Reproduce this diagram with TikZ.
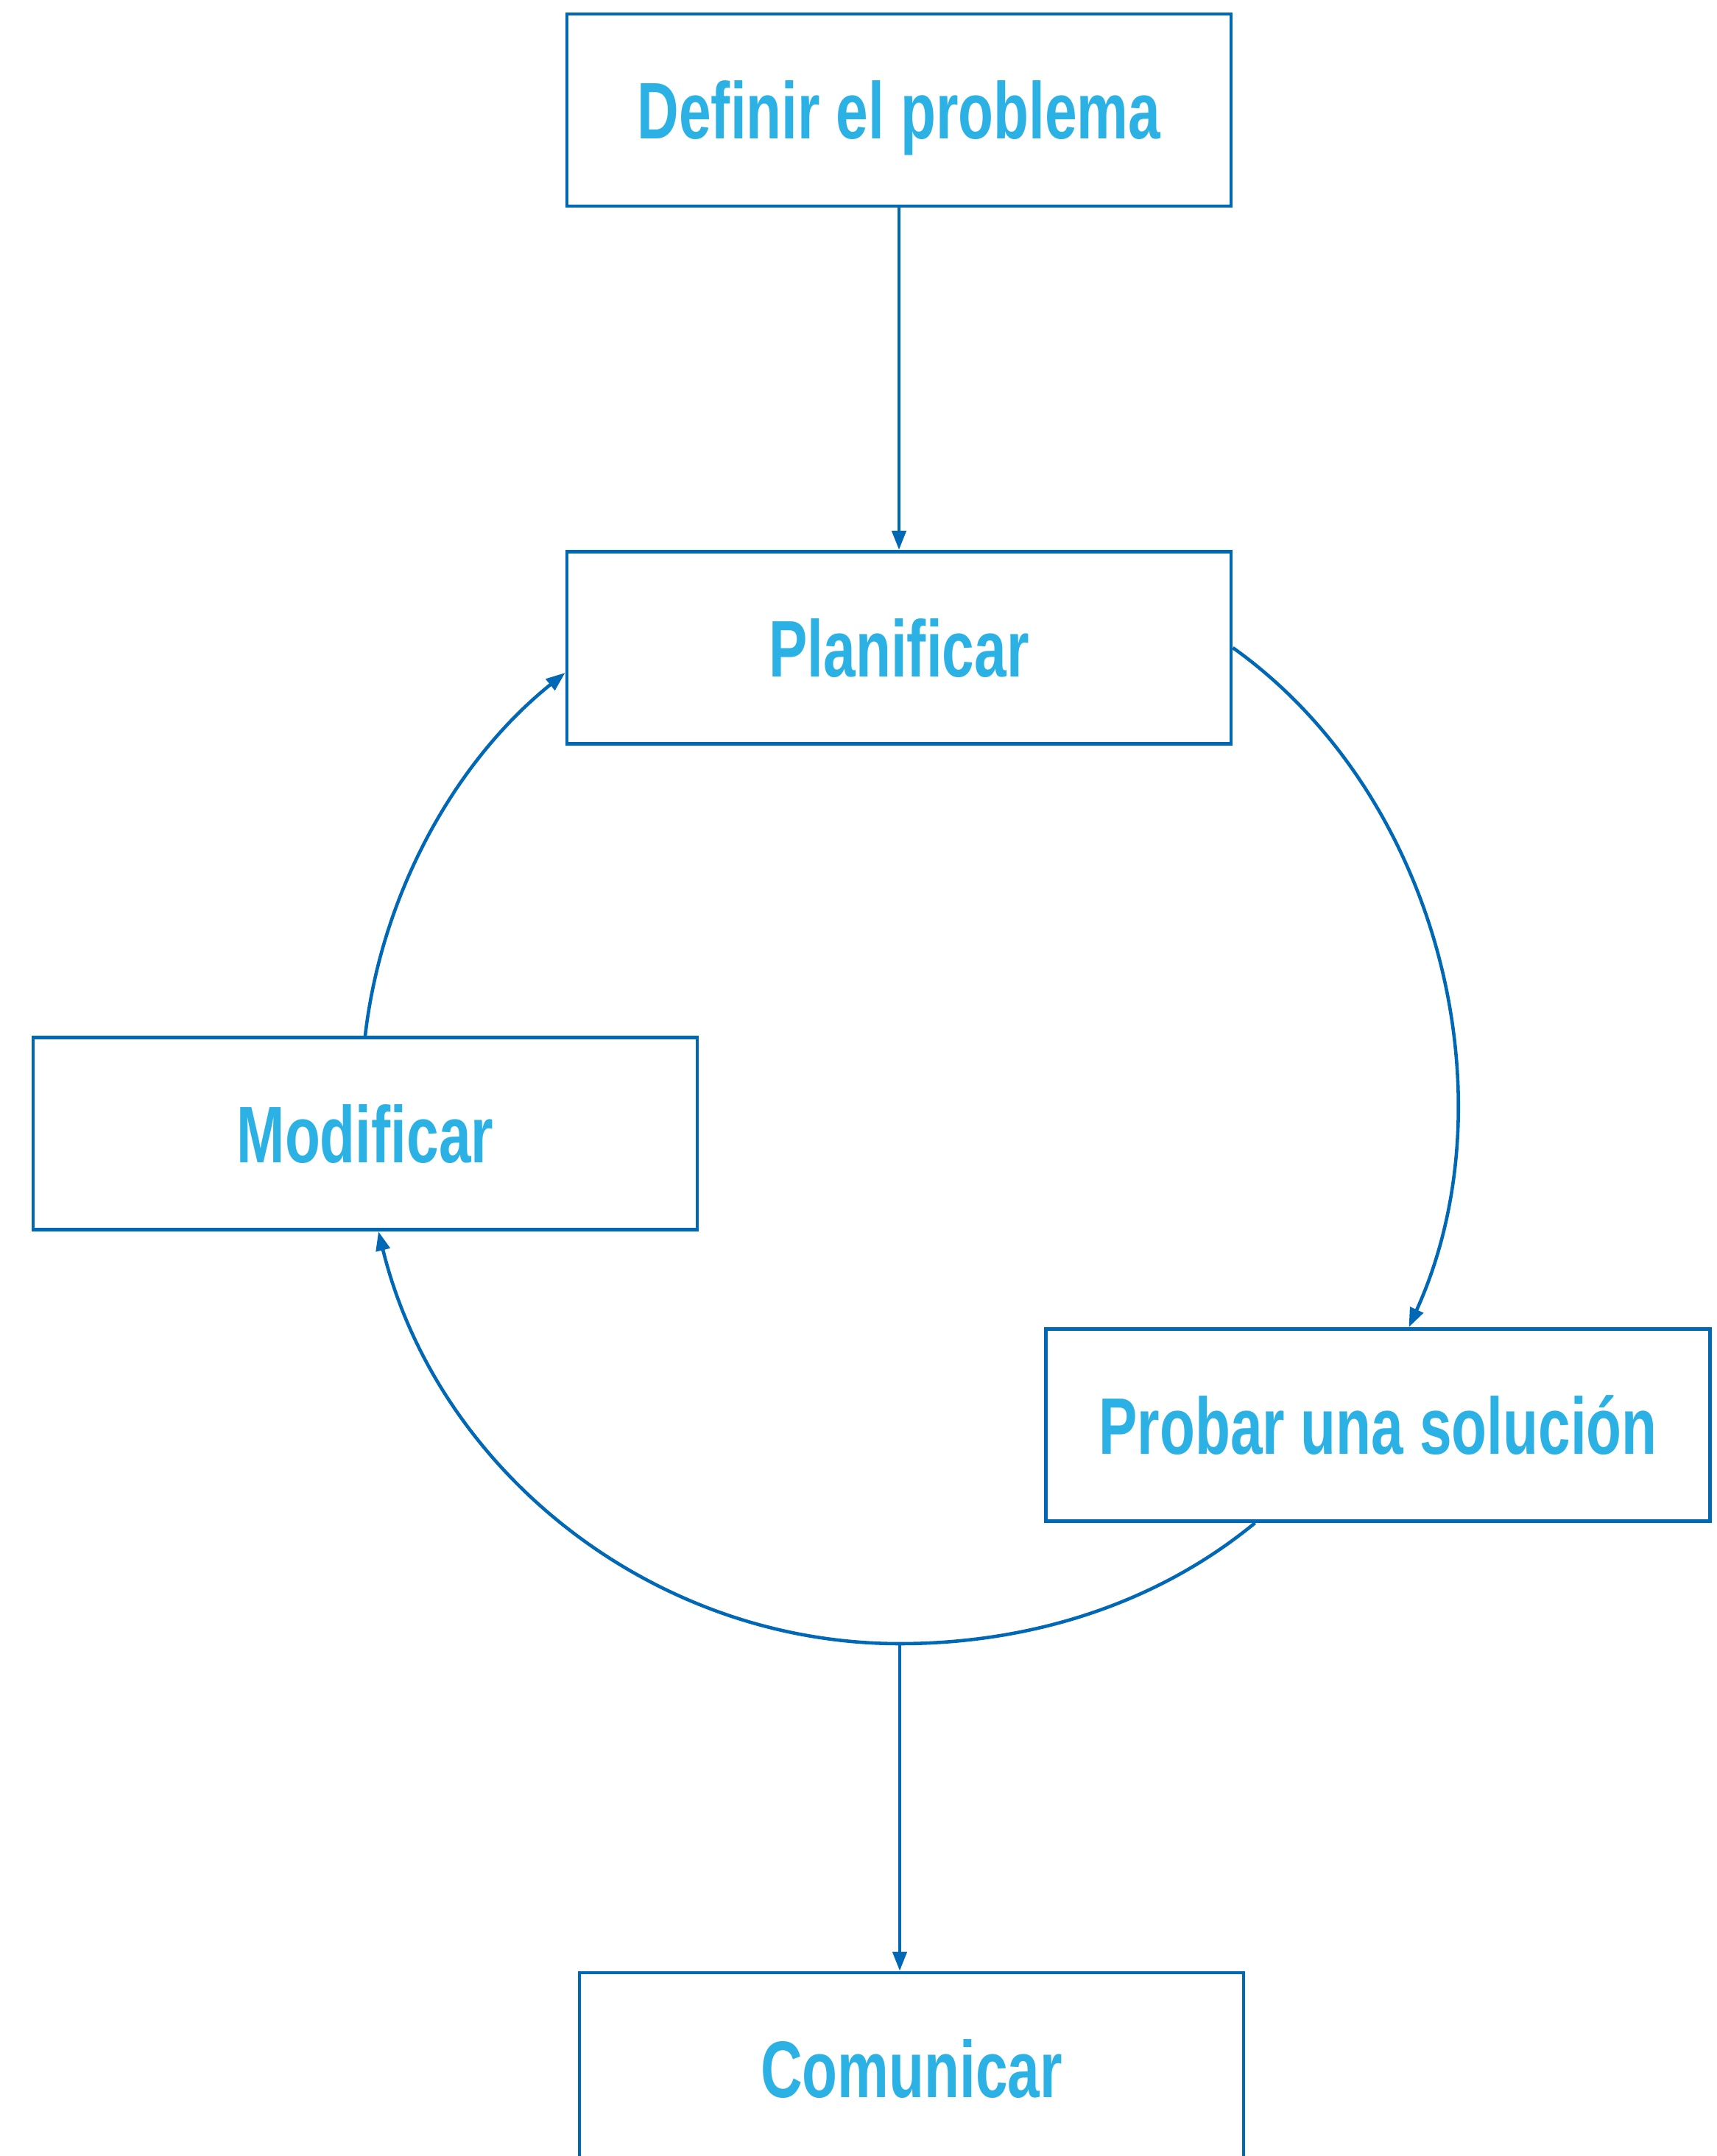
\documentclass[tikz,border=0pt]{standalone}
\usepackage{fontspec}
\newfontfamily\boxfont[FakeStretch=0.72]{Liberation Sans}
\usepackage{tikz}
\usetikzlibrary{arrows.meta}
\definecolor{boxline}{HTML}{0068B4}
\definecolor{boxtext}{HTML}{2CB1E5}

\begin{document}
\begin{tikzpicture}[
    stage/.style={draw=boxline, line width=1.4pt, minimum width=9.02cm, minimum height=2.61cm, inner sep=0pt,
        text=boxtext, font=\boxfont\bfseries\fontsize{31}{36}\selectfont, text height=22.3pt, text depth=0pt},
    flow/.style={draw=boxline, line width=1.3pt, -{Triangle[length=2.6mm, width=1.9mm]}}
]
    \useasboundingbox (0,0) rectangle (23.32,29.29);
    \node[stage] (defn) at (12.21, 27.795) {Definir el problema};
    \node[stage] (plan) at (12.21, 20.49) {Planificar};
    \node[stage] (modif) at (4.96, 13.89) {Modificar};
    \node[stage] (probar) at (18.715, 9.93) {Probar una solución};
    \node[stage] (comun) at (12.38, 1.185) {Comunicar};
    \coordinate (low) at (12.22, 6.96);
    \draw[flow] (defn.south) -- (plan.north);
    \draw[flow] (plan.east) to[out=-35.5, in=65.6, looseness=0.92] ([xshift=4.2mm]probar.north);
    \draw[draw=boxline, line width=1.3pt] ([xshift=-16.7mm]probar.south) to[out=-140.5, in=0, looseness=0.88] (low);
    \draw[flow] (low) to[out=180, in=-76.2, looseness=0.95] ([xshift=1.8mm]modif.south);
    \draw[flow] (modif.north) to[out=83.4, in=218.8, looseness=0.88] ([yshift=-3.4mm]plan.west);
    \draw[flow] (low) -- (low |- comun.north);
\end{tikzpicture}
\end{document}
